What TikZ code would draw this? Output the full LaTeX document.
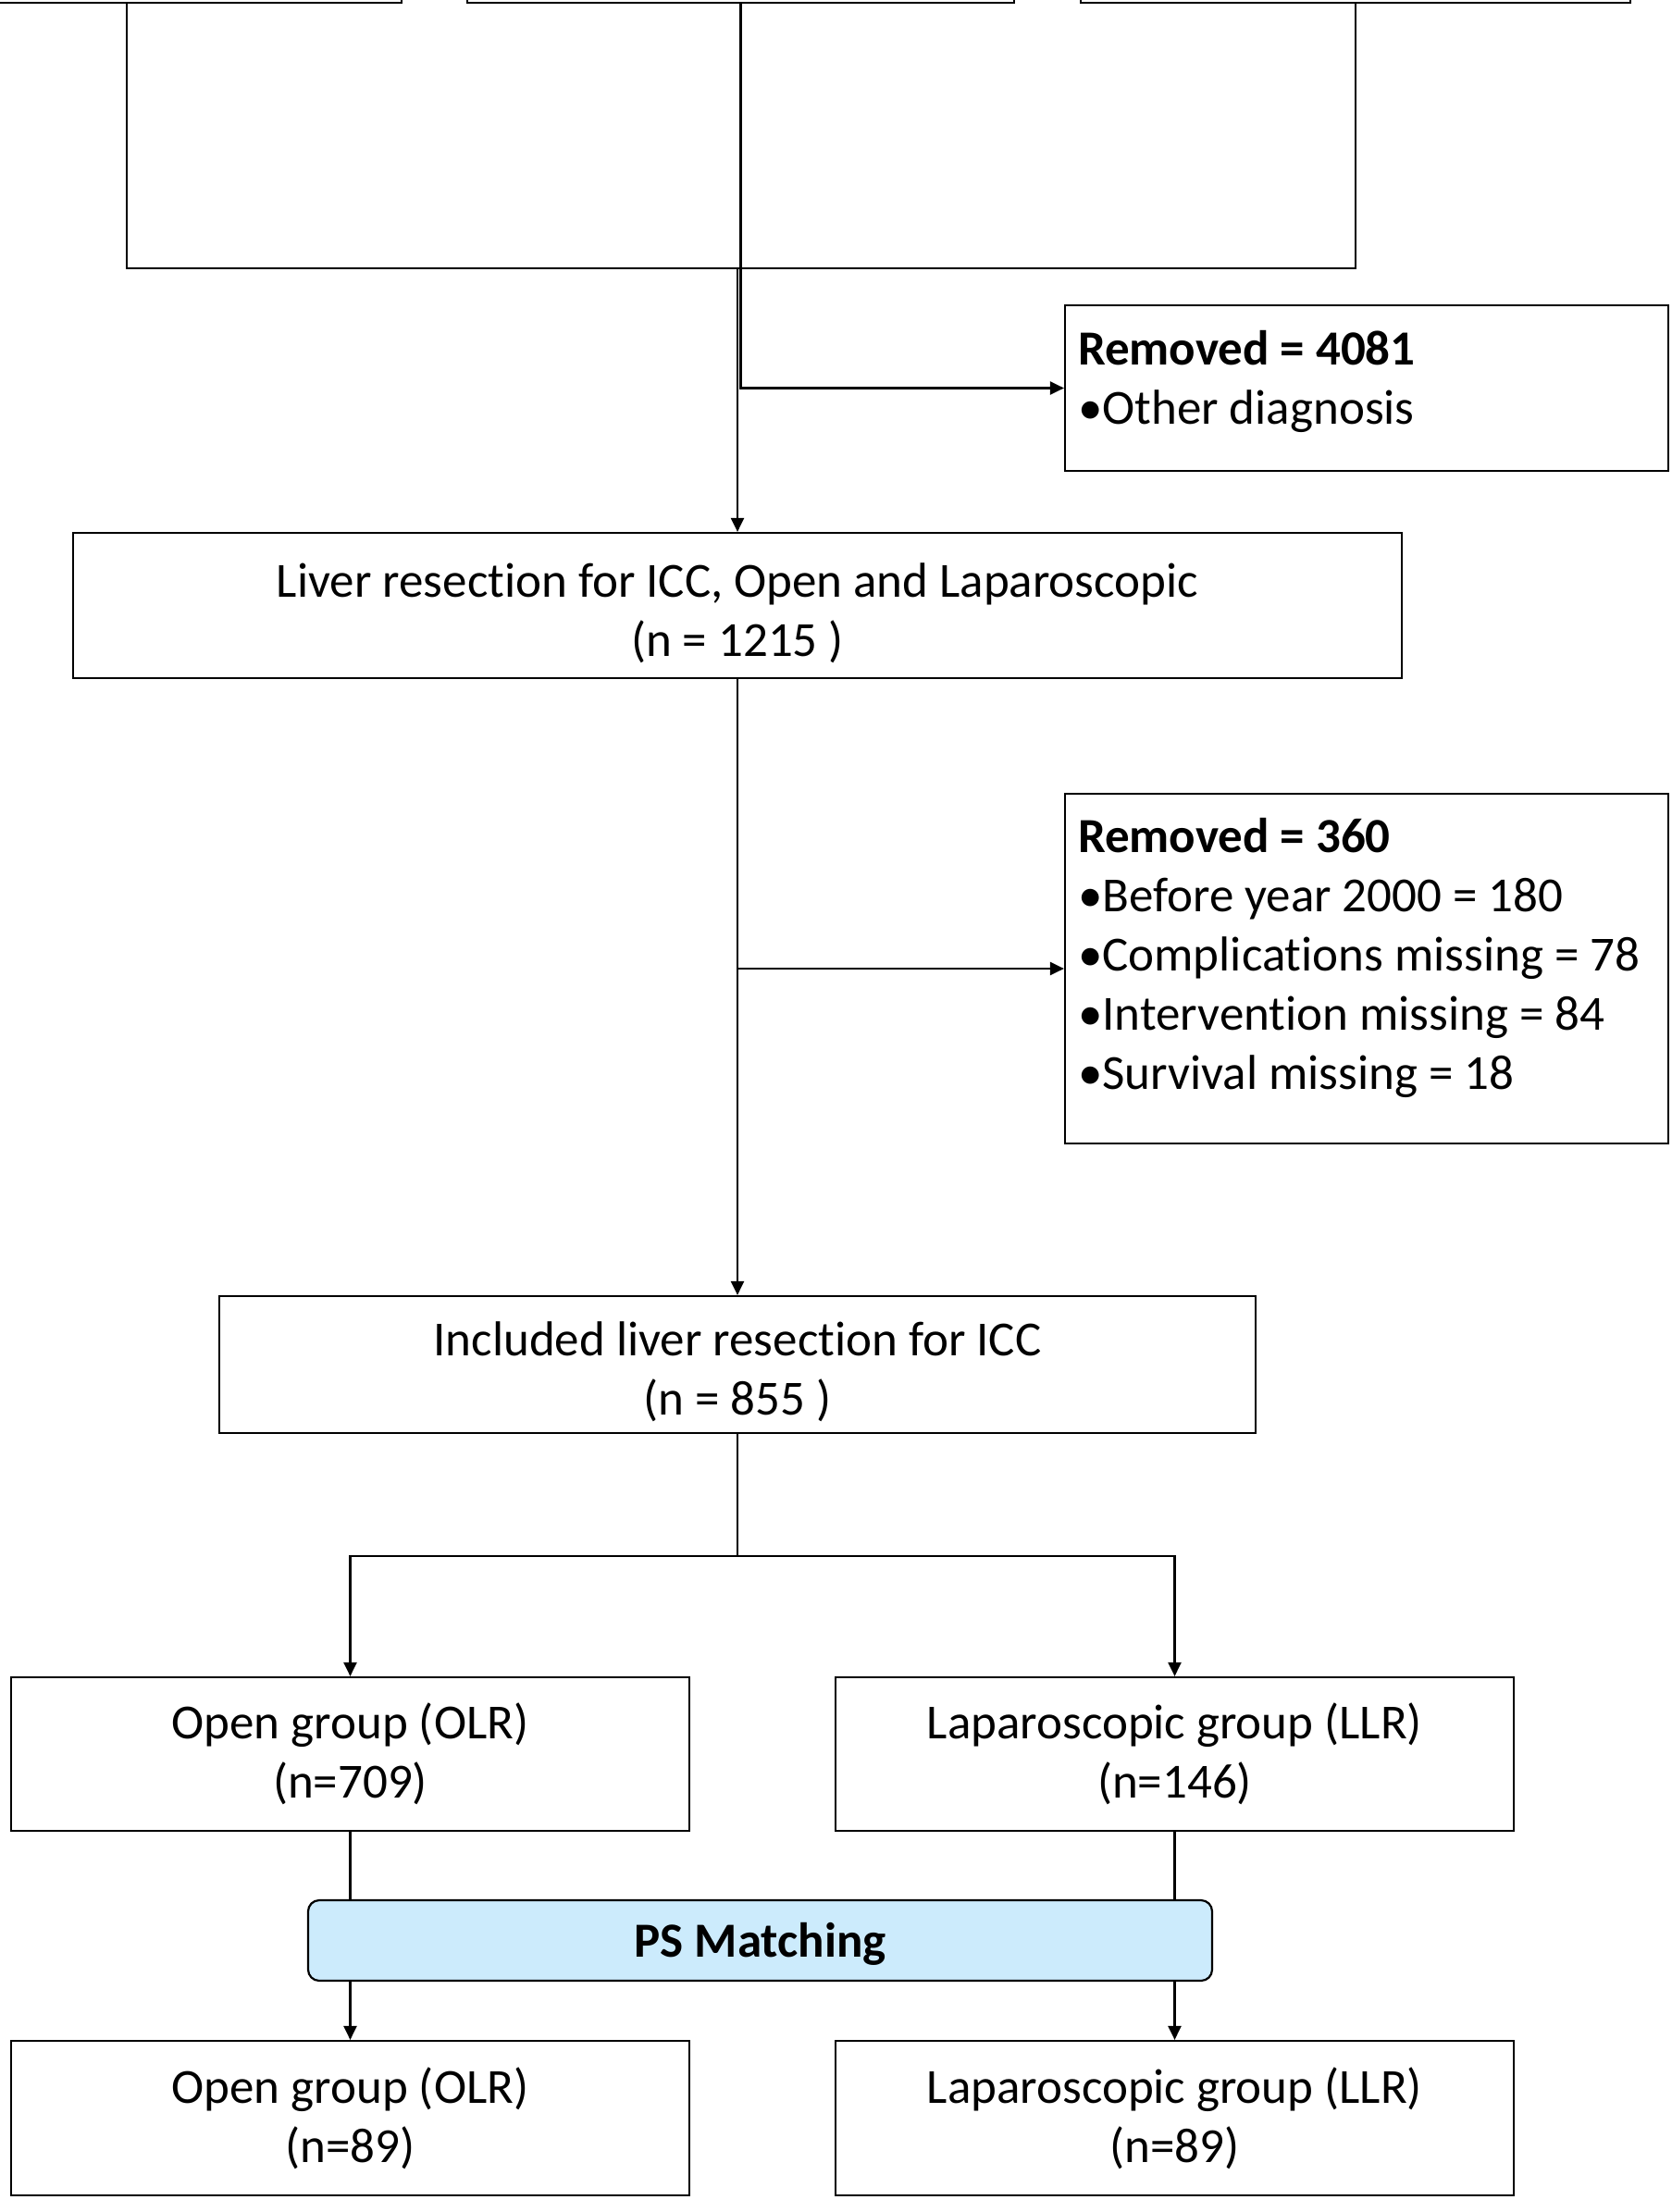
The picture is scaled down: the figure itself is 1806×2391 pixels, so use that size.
\documentclass[tikz,border=0pt]{standalone}
\usepackage{fontspec}
\setmainfont{Carlito}[Ligatures=NoCommon]
\usetikzlibrary{arrows.meta}
\definecolor{psblue}{RGB}{204,235,252}
\begin{document}
\begin{tikzpicture}[x=0.5pt,y=-0.5pt,
  every node/.style={font=\fontsize{26.5pt}{32pt}\selectfont},
  box/.style={draw=black, line width=1.1pt, rectangle, inner sep=0pt, align=center},
  remo/.style={box, align=flush left, text width=312pt, inner xsep=7pt, inner ysep=0pt},
  link/.style={draw=black, line width=1.1pt},
  arr/.style={link, -{Triangle[length=7.5pt,width=7pt]}},
  psbox/.style={box, fill=psblue, rounded corners=6pt, font=\fontsize{26.5pt}{32pt}\selectfont\bfseries}]
\useasboundingbox (0,0) rectangle (1806,2391);
\clip (0,0) rectangle (1806,2391);
\fill[white] (0,0) rectangle (1806,2391);
% top boxes (cut off)
\node[box, minimum width=297pt, minimum height=76.5pt] (top1) at (137,-73.5) {};
\node[box, minimum width=295.5pt, minimum height=76.5pt] (top2) at (800.5,-73.5) {};
\node[box, minimum width=297pt, minimum height=76.5pt] (top3) at (1465,-73.5) {};
% main nodes
\node[remo, minimum height=89.5pt] (rem1) at (1477,419.5) {\textbf{Removed = 4081}\\•Other diagnosis\rule[-11.5pt]{0pt}{0pt}};
\node[box, minimum width=718pt, minimum height=78.5pt] (liver) at (797,654.5) {\rule{0pt}{26.5pt}Liver resection for ICC, Open and Laparoscopic\\(n = 1215 )};
\node[remo, minimum height=189pt] (rem2) at (1477,1047) {\textbf{Removed = 360}\\•Before year 2000 = 180\\•Complications missing = 78\\•Intervention missing = 84\\•Survival missing = 18\rule[-16pt]{0pt}{0pt}};
\node[box, minimum width=560pt, minimum height=74pt] (incl) at (797,1475) {\rule{0pt}{26.5pt}Included liver resection for ICC\\(n = 855 )};
\node[box, minimum width=366.5pt, minimum height=83pt] (open1) at (378.5,1896) {Open group (OLR)\\(n=709)};
\node[box, minimum width=366.5pt, minimum height=83pt] (lap1) at (1269.5,1896) {Laparoscopic group (LLR)\\(n=146)};
\node[psbox, minimum width=488.5pt, minimum height=43.5pt] (ps) at (821.5,2097.5) {\rule{0pt}{22pt}PS Matching};
\node[box, minimum width=366.5pt, minimum height=83.5pt] (open2) at (378.5,2289.5) {Open group (OLR)\\(n=89)};
\node[box, minimum width=366.5pt, minimum height=83.5pt] (lap2) at (1269.5,2289.5) {Laparoscopic group (LLR)\\(n=89)};
% connectors
\coordinate (j1) at (797,290);
\draw[link] (top1.south) |- (j1) -| (top3.south);
\draw[arr] (top2.south) |- (rem1.west);
\draw[arr] (j1) -- (j1 |- liver.north);
\draw[arr] (liver.south) -- (incl.north);
\draw[arr] (liver.south |- rem2.west) -- (rem2.west);
\coordinate (j2) at (797,1682);
\draw[link] (incl.south) -- (j2);
\draw[arr] (j2) -| (open1.north);
\draw[arr] (j2) -| (lap1.north);
\draw[link] (open1.south) -- (open1.south |- ps.north);
\draw[link] (lap1.south) -- (lap1.south |- ps.north);
\draw[arr] (open2.north |- ps.south) -- (open2.north);
\draw[arr] (lap2.north |- ps.south) -- (lap2.north);
\end{tikzpicture}
\end{document}
